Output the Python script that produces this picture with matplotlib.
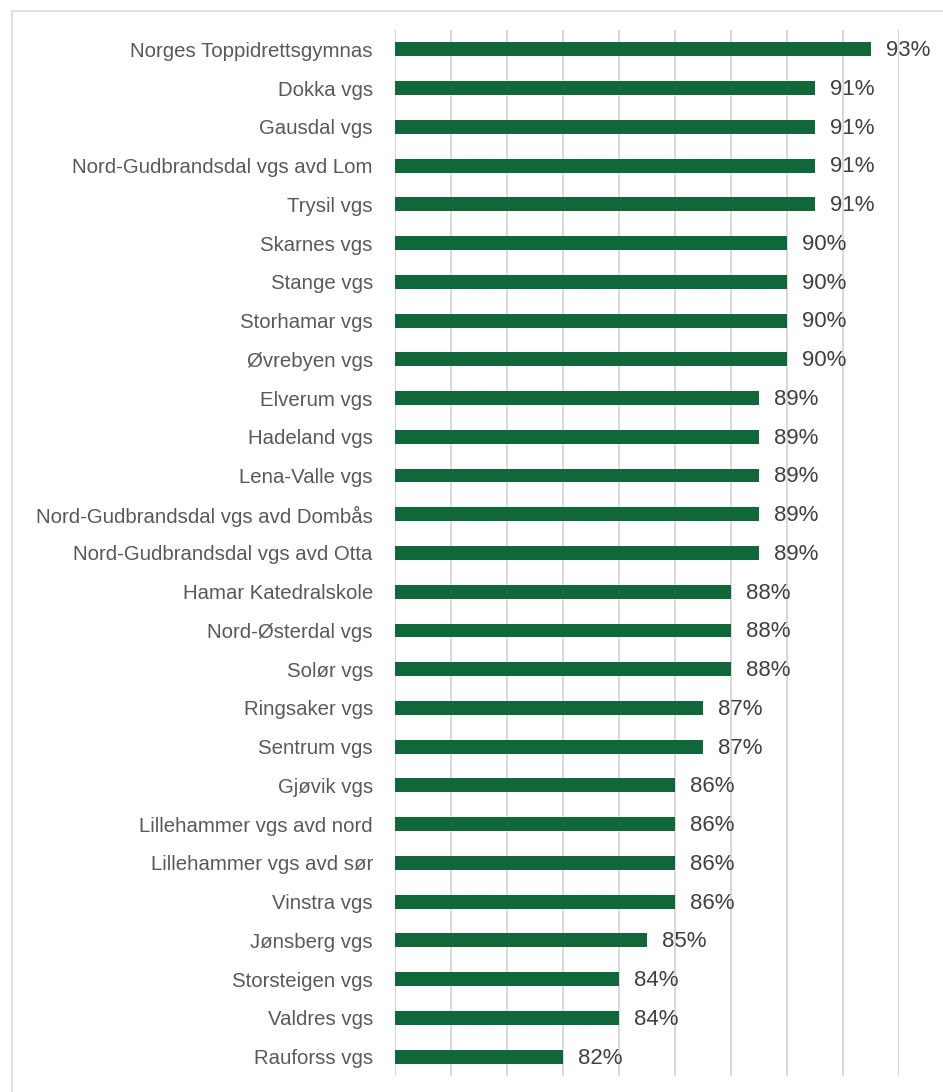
import matplotlib
matplotlib.use('Agg')

import matplotlib.pyplot as plt
from matplotlib.patches import Rectangle

# === Data ===
schools = [
    "Norges Toppidrettsgymnas", "Dokka vgs", "Gausdal vgs",
    "Nord-Gudbrandsdal vgs avd Lom", "Trysil vgs", "Skarnes vgs",
    "Stange vgs", "Storhamar vgs", "Øvrebyen vgs", "Elverum vgs",
    "Hadeland vgs", "Lena-Valle vgs", "Nord-Gudbrandsdal vgs avd Dombås",
    "Nord-Gudbrandsdal vgs avd Otta", "Hamar Katedralskole",
    "Nord-Østerdal vgs", "Solør vgs", "Ringsaker vgs", "Sentrum vgs",
    "Gjøvik vgs", "Lillehammer vgs avd nord", "Lillehammer vgs avd sør",
    "Vinstra vgs", "Jønsberg vgs", "Storsteigen vgs", "Valdres vgs",
    "Rauforss vgs",
]
values = [93, 91, 91, 91, 91, 90, 90, 90, 90, 89, 89, 89, 89, 89,
          88, 88, 88, 87, 87, 86, 86, 86, 86, 85, 84, 84, 82]

BAR_COLOR = "#10673a"
W, H = 943, 1092

plt.rcParams['font.family'] = ['Liberation Sans', 'DejaVu Sans']

fig = plt.figure(figsize=(W / 100, H / 100), dpi=100)
ax = fig.add_axes([395 / W, 16 / H, (899 - 395) / W, (1076 - 30) / H])

y = list(range(len(schools)))
ax.barh(y, values, height=0.36, color=BAR_COLOR, zorder=3)

# value labels right of each bar
for yi, v in zip(y, values):
    ax.annotate(f"{v}%", xy=(v, yi), xytext=(11, -1), textcoords="offset points",
                va="center", ha="left", fontsize=16, color="#404040")

ax.set_xlim(76, 94)
ax.set_ylim(len(schools) - 0.5, -0.5)
ax.set_xticks(range(76, 95, 2))
ax.xaxis.grid(True, color="#d9d9d9", linewidth=1.5, zorder=0)
ax.tick_params(axis='x', length=0, labelbottom=False)
ax.tick_params(axis='y', length=0, pad=16)
ax.set_yticks(y)
ax.set_yticklabels(schools, fontsize=14.7, color="#595959")
for s in ax.spines.values():
    s.set_visible(False)

# frame round the chart area
fig.patches.append(Rectangle((12 / W, -0.05), 1.2, 1 - 11 / H + 0.05,
                             transform=fig.transFigure, fill=False,
                             edgecolor="#d9d9d9", linewidth=1.2))

fig.savefig("out.png", dpi=100)
